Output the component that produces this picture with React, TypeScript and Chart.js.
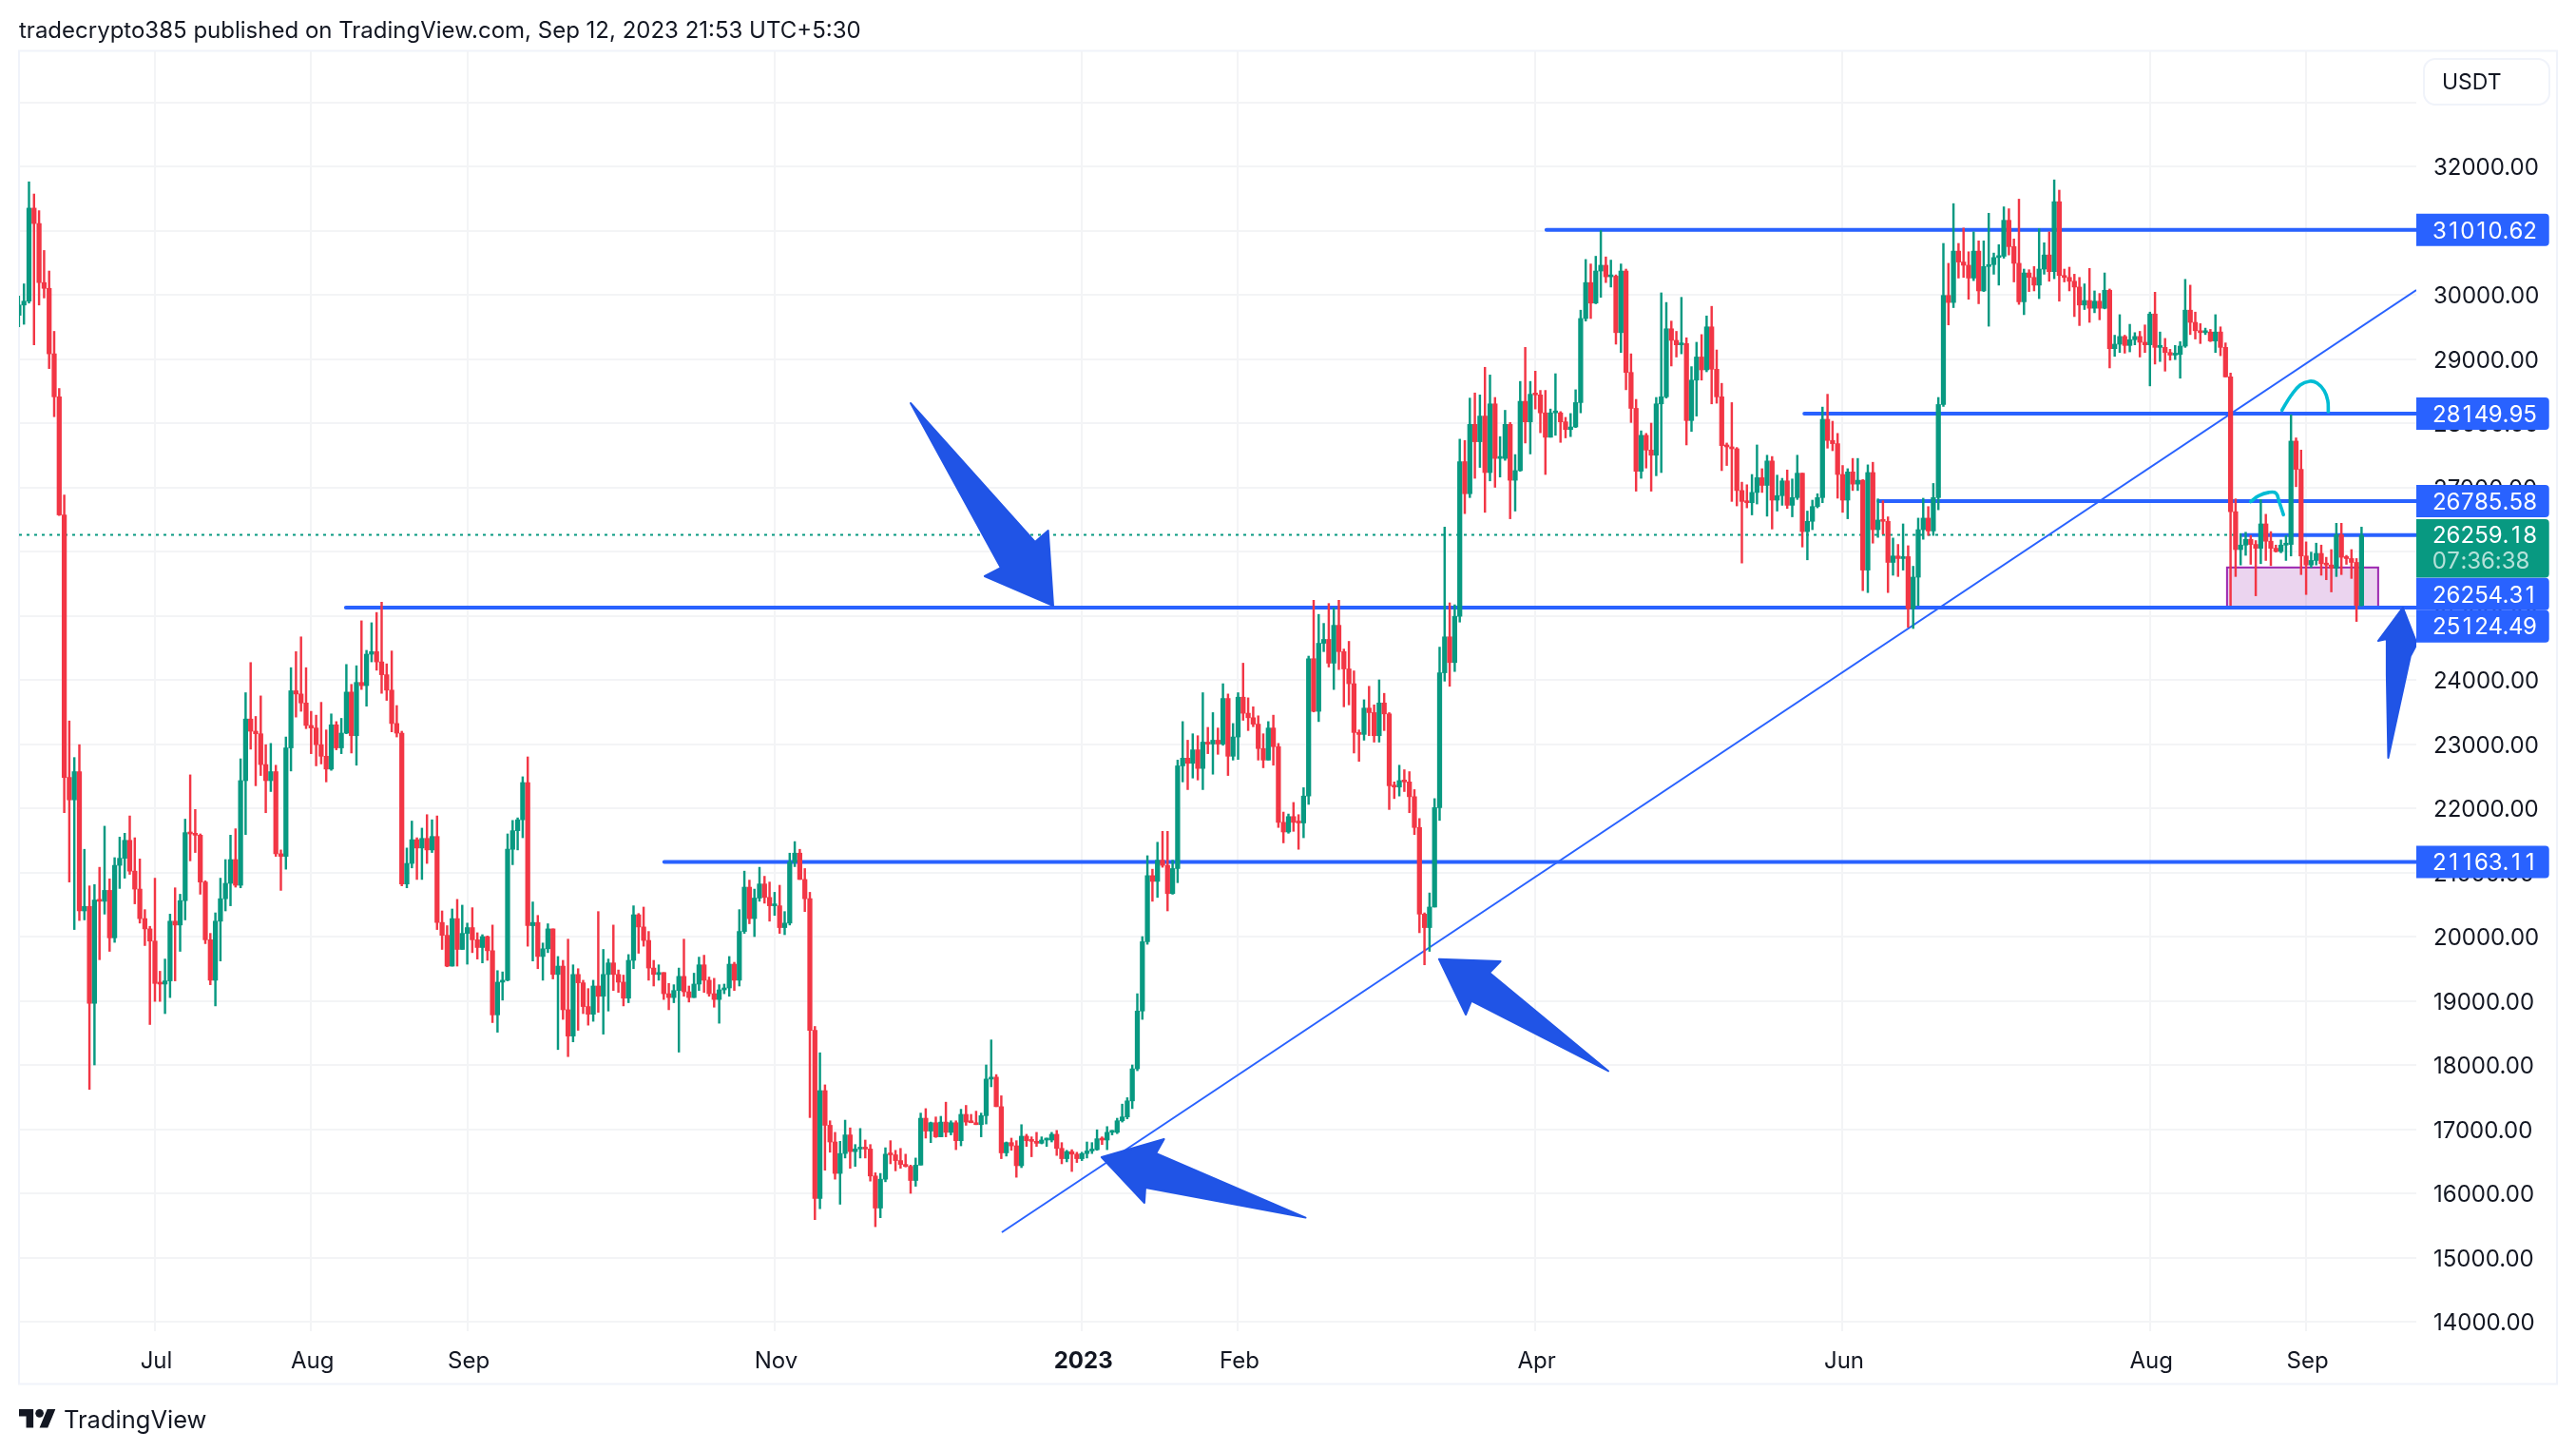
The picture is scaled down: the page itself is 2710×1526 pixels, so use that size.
import React, { useEffect, useRef } from "react";
import { Chart, registerables } from "chart.js";

Chart.register(...registerables);

// Daily candles. Day 0 is 1 Jul 2022; the first candle is day -27.
const firstDay = -27;
const opens = [
29680,29840,29900,31350,31110,30190,30100,29080,28410,26570,
22480,22130,22570,20400,20470,18960,20570,20550,20720,19980,
21110,21220,21500,21020,20740,20280,20120,19930,19270,19260,
19310,20240,20180,20560,21620,21600,21580,20850,19950,19320,
20240,20590,20830,21200,20800,22430,23390,23200,23160,22680,
22430,22570,21290,21250,22940,23830,23780,23640,23290,23250,
22990,22810,22610,23300,22940,23170,23810,23130,23960,23910,
24400,24440,24280,24080,23840,23320,23170,20820,21140,21510,
21380,21530,21350,21560,20220,20020,19540,20280,19800,20050,
20140,19950,19830,20000,19780,18780,19290,19320,21360,21650,
21820,22400,20170,20220,19690,19810,20120,19410,19540,18860,
18450,19410,19280,18910,18790,19230,19070,19410,19590,19410,
19290,19040,19630,20340,20150,19940,19510,19410,19440,19110,
19050,19160,19380,19140,19050,19260,19560,19320,19110,19020,
19170,19200,19570,19320,20080,20770,20280,20600,20820,20610,
20480,20480,20140,20210,21160,21300,20890,20590,18540,15920,
17600,17060,16800,16310,16620,16910,16650,16690,16700,16690,
16270,15770,16220,16610,16600,16510,16450,16420,16200,16440,
17170,16970,17100,16880,17110,16950,17100,16820,17230,17110,
17100,17070,17210,17780,17810,17350,16630,16790,16740,16430,
16890,16820,16810,16780,16830,16830,16920,16700,16540,16650,
16610,16540,16620,16660,16680,16850,16830,16950,16950,17130,
17190,17440,17940,18840,19920,20950,20860,21190,21110,20670,
21060,22660,22780,22700,22910,22620,23030,23000,23060,23000,
23710,22810,23110,23730,23480,23410,23310,22930,22750,23250,
22960,21780,21630,21870,21780,21770,22190,24330,23510,24570,
24630,24260,24850,24440,24170,23940,23180,23150,23560,23490,
23130,23640,23470,22350,22330,22430,22410,22180,21700,20350,
20140,20460,22010,24110,24670,24270,24990,27400,26900,27980,
27710,28110,27230,28300,27450,27450,27980,27110,27260,28340,
28020,28450,28440,28160,27780,28160,28160,28020,27900,27940,
28320,29630,30190,29870,30370,30460,30280,30290,29410,30370,
28790,28230,27250,27810,27580,27500,28300,28410,29470,29290,
29220,29240,28040,28670,29030,28830,29500,28840,28410,27650,
27630,27600,26950,26780,26760,26920,27150,27030,27410,26800,
26870,27100,26720,26840,27220,26310,26470,26700,26840,28060,
27730,27680,27200,26800,27240,27050,27110,25710,27230,26340,
26490,26470,25830,25930,25890,25920,25110,25600,26340,26520,
26320,26840,28290,29990,29880,30680,30510,30460,30260,30680,
30060,30440,30470,30580,30600,31160,30750,30490,29890,30340,
30270,30150,30400,30620,30360,31450,30300,30270,30210,30120,
29840,29910,29790,29900,29790,30070,29160,29230,29350,29210,
29300,29350,29260,29220,29700,29180,29180,29100,29060,29070,
29200,29760,29570,29440,29410,29420,29280,29420,29180,28720,
26620,26030,26100,26190,26110,26050,26430,26160,26050,26000,
26100,26110,27720,27280,25930,25790,25860,25970,25810,25790,
25740,26260,25910,25890,25830,25160,
];
const highs = [
29980,30170,31760,31570,31310,30690,30370,29430,28540,26880,
23360,22790,22990,21360,20790,20810,21080,21720,20900,21230,
21550,21610,21880,21540,21210,20420,20160,20910,19460,19650,
20350,20760,20660,21830,22520,21980,21600,20870,20050,20370,
20910,21200,21580,21680,22770,23800,24270,23430,23750,22990,
23010,22670,21350,23110,24190,24440,24670,24190,23510,23450,
23650,23220,23470,23350,23400,24240,23930,24220,24920,24460,
24890,25050,25210,24250,24450,23600,23200,21380,21800,21540,
21690,21900,21820,21880,20400,20170,20430,20580,20490,20210,
20450,20060,20030,20010,20180,19470,19450,21600,21810,21850,
22490,22800,20540,20330,19900,20200,20120,19690,19630,19960,
19560,19500,19320,19190,19320,20390,19800,19650,20180,19480,
19400,19720,20480,20360,20460,20080,19630,19560,19440,19270,
19250,19510,19960,19230,19430,19680,19710,19370,19350,19250,
19260,19690,19600,20420,21020,20880,20740,21080,20940,20850,
20690,20800,20390,21300,21480,21360,21060,20690,18600,18190,
17690,17130,16950,16810,17140,17020,16760,17010,16830,16760,
16320,16310,16710,16820,16670,16700,16610,16440,16550,17250,
17320,17110,17190,17200,17420,17130,17130,17310,17370,17230,
17280,17250,18000,18390,17850,17520,16800,16860,16820,17070,
16920,16880,16950,16880,16860,16950,16980,16790,16670,16680,
16640,16640,16800,16790,16990,16880,17040,16980,17170,17390,
17490,18000,19110,20000,21260,21050,21470,21640,21640,21190,
22750,23350,23060,23160,23130,23800,23260,23490,23250,23940,
23780,23320,23800,24260,23720,23580,23440,23160,23350,23450,
23010,21940,21910,22090,21900,22320,24370,25240,25020,24880,
25190,25120,25240,24480,24600,24140,23220,23690,23900,23610,
24000,23790,23490,22410,22670,22600,22570,22290,21840,20370,
20680,22150,24510,26380,25200,25170,27750,27730,28390,28470,
28440,28870,28750,28400,27790,28200,28010,27510,28650,29180,
28650,28810,28510,28510,28220,28770,28180,28090,28150,28520,
29760,30550,30480,30600,31000,30590,30540,30310,30480,30400,
29080,28370,27880,27840,28000,28400,30030,29880,29590,29430,
29960,29330,28880,29260,29380,29670,29820,29140,28620,27690,
28320,27620,27080,27040,27200,27660,27290,27500,27480,27190,
27140,27270,27130,27500,27220,26630,26800,26900,28250,28450,
28030,27840,27340,27290,27450,27450,27120,27350,27390,26820,
26790,26540,26210,26110,26430,26090,25770,26520,26830,26700,
27060,28400,30800,30490,31420,30800,31040,30670,30980,30840,
30840,31270,30650,30780,31370,31340,30870,31490,30400,30390,
30440,31030,30810,30980,31790,31630,30400,30430,30320,30270,
30170,30410,30060,30020,30340,30090,29370,29690,29370,29540,
29410,29430,29530,29730,30040,29420,29320,29150,29210,29270,
30240,30150,29730,29550,29480,29460,29690,29500,29250,28780,
26820,26280,26300,26250,26170,26810,26580,26310,26100,26180,
26250,28130,27770,27580,26150,25990,26130,26100,25910,26030,
26440,26440,25940,26030,25890,26380,
];
const lows = [
29500,29540,29870,29220,29840,29950,28850,28100,26560,21930,
20850,20110,20250,20260,17620,18000,19640,20350,19770,19910,
20750,20910,20970,20510,20210,19860,18630,18990,18990,18800,
19050,19310,19770,20260,21180,21310,20660,19890,19250,18920,
19620,20400,20480,20770,20760,21590,22920,22350,22510,21930,
22260,21250,20720,21050,22580,23420,23510,23240,22850,22660,
22690,22410,22590,22910,22850,23160,22860,22670,23850,23590,
24280,24150,23790,23680,23190,23110,20790,20760,21070,20890,
20890,21140,21310,20110,19800,19530,19540,19540,19800,19570,
19750,19650,19590,19630,18660,18510,19010,19310,21120,21350,
21540,19850,19620,19500,19320,19750,19340,18240,18710,18130,
18360,18540,18800,18620,18680,18820,18480,18840,19160,19130,
18920,18970,19500,19740,19850,19320,19230,19320,19020,18860,
18970,18200,19070,18980,19050,19160,19130,19070,18900,18650,
19110,19070,19160,19230,20050,20200,20000,20550,20520,20240,
20330,20050,20030,20180,21090,20890,20390,17180,15590,15760,
16360,16640,16220,15830,16550,16390,16420,16550,16550,16190,
15480,15620,16180,16460,16350,16390,16410,16000,16110,16440,
16860,16790,16870,16880,16880,16910,16680,16740,17060,17100,
17070,16880,17080,17660,17350,16540,16580,16670,16250,16400,
16730,16570,16730,16770,16730,16800,16590,16460,16490,16340,
16480,16510,16550,16620,16670,16760,16680,16910,16930,17110,
17160,17320,17910,18710,19880,20550,20610,21080,20400,20660,
20840,22410,22290,22470,22440,22290,22850,22530,22840,22980,
22510,22750,22760,23370,23210,23270,22750,22630,22750,22670,
21700,21460,21610,21640,21360,21540,22060,23500,23350,24440,
24200,23850,24160,23580,23610,22860,22730,23060,23130,23030,
23030,23210,21980,22150,22190,22260,21930,21590,20060,19560,
19770,20460,21810,23980,23900,24130,24900,26590,26840,27140,
27310,26610,27100,27000,27160,27420,26510,26630,27250,27690,
27520,28220,27850,27200,27780,27810,27700,27770,27790,27930,
28160,29590,29630,29860,29960,30190,30120,29230,29100,28520,
28010,26940,27140,27300,26940,27180,27230,28390,28890,29030,
29080,27660,27870,28110,28670,28800,28300,28310,27260,27340,
26780,26710,25820,26680,26570,26740,26920,26550,26350,26630,
26720,26670,26540,26810,26070,25870,26340,26680,26760,27610,
27570,26830,26610,26510,26950,26950,25390,25360,26130,26220,
26270,25360,25630,25610,25710,24820,24800,25160,26190,26250,
26250,26650,28260,29530,29800,30260,30270,29930,30220,29860,
30050,29510,30320,30150,30570,30620,30200,29850,29690,30050,
30060,29940,30320,30210,30250,29900,30200,30060,29660,29520,
29770,29570,29720,29610,29780,28860,29040,29100,29090,29110,
29220,29030,29100,28580,28920,28960,28810,28980,28990,28700,
29180,29380,29310,29240,29380,29270,29100,29050,28720,25160,
25610,25790,25940,25800,25310,25810,25860,25780,25990,25980,
25860,25930,27010,25640,25330,25750,25790,25630,25560,25370,
25610,25640,25800,25580,24910,25150,
];
const closes = [
29840,29900,31350,31110,30190,30100,29080,28410,26570,22480,
22130,22570,20400,20470,18960,20570,20550,20720,19980,21110,
21220,21500,21020,20740,20280,20120,19930,19270,19260,19310,
20240,20180,20560,21620,21600,21580,20850,19950,19320,20240,
20590,20830,21200,20800,22430,23390,23200,23160,22680,22430,
22570,21290,21250,22940,23830,23780,23640,23290,23250,22990,
22810,22610,23300,22940,23170,23810,23130,23960,23910,24400,
24440,24280,24080,23840,23320,23170,20820,21140,21510,21380,
21530,21350,21560,20220,20020,19540,20280,19800,20050,20140,
19950,19830,20000,19780,18780,19290,19320,21360,21650,21820,
22400,20170,20220,19690,19810,20120,19410,19540,18860,18450,
19410,19280,18910,18790,19230,19070,19410,19590,19410,19290,
19040,19630,20340,20150,19940,19510,19410,19440,19110,19050,
19160,19380,19140,19050,19260,19560,19320,19110,19020,19170,
19200,19570,19320,20080,20770,20280,20600,20820,20610,20480,
20480,20140,20210,21160,21300,20890,20590,18540,15920,17600,
17060,16800,16310,16620,16910,16650,16690,16700,16690,16270,
15770,16220,16610,16600,16510,16450,16420,16200,16440,17170,
16970,17100,16880,17110,16950,17100,16820,17230,17110,17100,
17070,17210,17780,17810,17350,16630,16790,16740,16430,16890,
16820,16810,16780,16830,16830,16920,16700,16540,16650,16610,
16540,16620,16660,16680,16850,16830,16950,16950,17130,17190,
17440,17940,18840,19920,20950,20860,21190,21110,20670,21060,
22660,22780,22700,22910,22620,23030,23000,23060,23000,23710,
22810,23110,23730,23480,23410,23310,22930,22750,23250,22960,
21780,21630,21870,21780,21770,22190,24330,23510,24570,24630,
24260,24850,24440,24170,23940,23180,23150,23560,23490,23130,
23640,23470,22350,22330,22430,22410,22180,21700,20350,20140,
20460,22010,24110,24670,24270,24990,27400,26900,27980,27710,
28110,27230,28300,27450,27450,27980,27110,27260,28340,28020,
28450,28440,28160,27780,28160,28160,28020,27900,27940,28320,
29630,30190,29870,30370,30460,30280,30290,29410,30370,28790,
28230,27250,27810,27580,27500,28300,28410,29470,29290,29220,
29240,28040,28670,29030,28830,29500,28840,28410,27650,27630,
27600,26950,26780,26760,26920,27150,27030,27410,26800,26870,
27100,26720,26840,27220,26310,26470,26700,26840,28060,27730,
27680,27200,26800,27240,27050,27110,25710,27230,26340,26490,
26470,25830,25930,25890,25920,25110,25600,26340,26520,26320,
26840,28290,29990,29880,30680,30510,30460,30260,30680,30060,
30440,30470,30580,30600,31160,30750,30490,29890,30340,30270,
30150,30400,30620,30360,31450,30300,30270,30210,30120,29840,
29910,29790,29900,29790,30070,29160,29230,29350,29210,29300,
29350,29260,29220,29700,29180,29180,29100,29060,29070,29200,
29760,29570,29440,29410,29420,29280,29420,29180,28720,26620,
26030,26100,26190,26110,26050,26430,26160,26050,26000,26100,
26110,27720,27280,25930,25790,25860,25970,25810,25790,25740,
26260,25910,25890,25830,25160,26250,
];

// Axis ticks
const monthTickDays = [0, 31, 62, 123, 184, 215, 274, 335, 396, 427];
const monthTickLabels = ["Jul", "Aug", "Sep", "Nov", "2023", "Feb", "Apr", "Jun", "Aug", "Sep"];
const priceTicks = [14000,15000,16000,17000,18000,19000,20000,21000,22000,23000,24000,25000,26000,27000,28000,29000,30000,31000,32000,33000];
const unlabeledPriceTicks = [33000];

// Drawn levels: price, first day, offset of the price tag
const levelPrices = [31010.62, 28149.95, 26785.58, 26254.31, 25124.49, 21163.11];
const levelStartDays = [276.2, 327.4, 342.1, 414.3, 37.9, 101.1];
const levelTagShift = [0, 0, 0, 62, 19.6, 0];
const lastPrice = 26259.18;
const countdown = "07:36:38";

// Trend line and drawings, as [day, price]
const trendLine = [[168.1, 15393], [448.87, 30074]];
const arrowA = [[150.0,28311],[167.9,25748],[164.7,25615],[178.3,25156],[177.3,26326],[174.7,26148]];
const arrowB = [[187.9,16563],[200.3,16844],[198.7,16622],[228.4,15621],[196.6,16089],[196.4,15852]];
const arrowC = [[254.9,19649],[267.1,19615],[264.9,19437],[288.5,17904],[261.3,18999],[260.2,18785]];
const arrowD = [[446.2,25126],[449.0,24563],[447.7,24370],[443.3,22785],[443.0,24074],[443.0,24637],[441.3,24607]];
const zoneDays = [411.3, 441.3];
const zonePrices = [25751, 25124.49];
const curveBig = [[422.2,28201],[424,28430],[425.8,28593],[427.7,28652],[429.2,28622],[430.6,28504],[431.3,28350],[431.4,28178]];
const curveSmall = [[416,26778],[417.6,26868],[419.6,26920],[421,26910],[421.6,26788],[422.5,26572]];

const titleText = "tradecrypto385 published on TradingView.com, Sep 12, 2023 21:53 UTC+5:30";
const brandText = "TradingView";
const currencyText = "USDT";

const UP = "#089981";
const DOWN = "#f23645";
const BLUE = "#2962ff";
const ARROW = "#2054e6";
const CYAN = "#00bcd4";
const FRAME = "#f0f3fa";
const GRID = "#f3f4f6";
const INK = "#131722";
const FONT = "Inter";

const X_MIN = -26.98;
const X_MAX = 448.87;
const Y_MIN = 13851.9;
const Y_MAX = 33792.6;

const days = opens.map((_, i) => firstDay + i);
const candleColors = opens.map((o, i) => (closes[i] >= o ? UP : DOWN));
const pts = (list: number[][]) => list.map(([x, y]) => ({ x, y }));

// Price tags use fixed-width digits, as the reference does.
const DIGIT_ADVANCE = 14.7;
const MARK_ADVANCE = 7;
function fillTabular(ctx: CanvasRenderingContext2D, text: string, x: number, y: number) {
  let cx = x;
  ctx.textAlign = "center";
  for (const ch of text) {
    const adv = /\d/.test(ch) ? DIGIT_ADVANCE : MARK_ADVANCE;
    ctx.fillText(ch, cx + adv / 2, y);
    cx += adv;
  }
  ctx.textAlign = "left";
}

const drawingsPlugin = {
  id: "drawings",
  beforeDraw(chart: any) {
    const { ctx } = chart;
    ctx.save();
    ctx.strokeStyle = FRAME;
    ctx.lineWidth = 2;
    ctx.strokeRect(20, 53.5, 2670, 1402);
    ctx.fillStyle = INK;
    ctx.textBaseline = "middle";
    ctx.textAlign = "left";
    ctx.font = `24px ${FONT}`;
    ctx.fillText(titleText, 20, 32.5);
    ctx.font = `25.5px ${FONT}`;
    ctx.fillText(brandText, 67, 1494);
    // brand mark
    ctx.translate(20, 1477.7);
    ctx.scale(1.08, 1.08);
    ctx.fill(new Path2D("M14 22H7V11H0V4h14v18zM28 22h-8l7.5-18h8L28 22z"));
    ctx.beginPath();
    ctx.arc(20, 8, 4, 0, Math.PI * 2);
    ctx.fill();
    ctx.restore();
  },
  beforeDatasetsDraw(chart: any) {
    const { ctx, scales, chartArea } = chart;
    const { x, y } = scales;
    ctx.save();
    ctx.beginPath();
    ctx.rect(chartArea.left, chartArea.top, chartArea.width, chartArea.height);
    ctx.clip();
    const zx = x.getPixelForValue(zoneDays[0]);
    const zy = y.getPixelForValue(zonePrices[0]);
    const zw = x.getPixelForValue(zoneDays[1]) - zx;
    const zh = y.getPixelForValue(zonePrices[1]) - zy;
    ctx.fillStyle = "rgba(156,39,176,0.2)";
    ctx.fillRect(zx, zy, zw, zh);
    ctx.strokeStyle = "#9c27b0";
    ctx.lineWidth = 2;
    ctx.strokeRect(zx, zy, zw, zh);
    ctx.restore();
  },
  afterDatasetsDraw(chart: any) {
    const { ctx, scales, chartArea } = chart;
    const { x, y } = scales;
    ctx.save();
    ctx.beginPath();
    ctx.rect(chartArea.left, chartArea.top, chartArea.width, chartArea.height);
    ctx.clip();
    ctx.fillStyle = ARROW;
    ctx.strokeStyle = ARROW;
    ctx.lineWidth = 2;
    ctx.lineJoin = "round";
    for (const arrow of [arrowA, arrowB, arrowC, arrowD]) {
      ctx.beginPath();
      arrow.forEach(([d, p], i) => {
        const px = x.getPixelForValue(d);
        const py = y.getPixelForValue(p);
        if (i === 0) ctx.moveTo(px, py);
        else ctx.lineTo(px, py);
      });
      ctx.closePath();
      ctx.fill();
      ctx.stroke();
    }
    ctx.restore();
  },
  afterDraw(chart: any) {
    const { ctx, scales } = chart;
    const { y } = scales;
    const left = 2542;
    const w = 139.7;
    const textX = 2559;
    ctx.save();
    ctx.textAlign = "left";
    ctx.textBaseline = "middle";
    ctx.font = `24px ${FONT}`;

    // last price tag
    const lastY = y.getPixelForValue(lastPrice);
    ctx.fillStyle = UP;
    ctx.beginPath();
    ctx.roundRect(left, lastY - 16.5, w, 61.5, [0, 4, 4, 0]);
    ctx.fill();
    ctx.fillStyle = "#ffffff";
    fillTabular(ctx, lastPrice.toFixed(2), textX, lastY + 1.5);
    ctx.fillStyle = "rgba(255,255,255,0.7)";
    fillTabular(ctx, countdown, textX, lastY + 28.5);

    levelPrices.forEach((price, i) => {
      const cy = y.getPixelForValue(price) + levelTagShift[i];
      ctx.fillStyle = BLUE;
      ctx.beginPath();
      ctx.roundRect(left, cy - 17, w, 34, [0, 4, 4, 0]);
      ctx.fill();
      ctx.fillStyle = "#ffffff";
      fillTabular(ctx, price.toFixed(2), textX, cy + 1.5);
    });

    // currency box
    ctx.fillStyle = "#ffffff";
    ctx.strokeStyle = FRAME;
    ctx.lineWidth = 2;
    ctx.beginPath();
    ctx.roundRect(2550, 62, 132, 48, 12);
    ctx.fill();
    ctx.stroke();
    ctx.fillStyle = INK;
    ctx.font = `23px ${FONT}`;
    ctx.fillText(currencyText, 2569, 87);
    ctx.restore();
  },
};

export default function App() {
  const ref = useRef<HTMLCanvasElement>(null);
  useEffect(() => {
    const canvas = ref.current;
    if (!canvas) return;
    const hLine = (i: number) => ({
      type: "line",
      data: [{ x: levelStartDays[i], y: levelPrices[i] }, { x: X_MAX, y: levelPrices[i] }],
      borderColor: BLUE,
      borderWidth: 4,
      borderCapStyle: "round",
      pointRadius: 0,
      order: 3,
    });
    const curve = (list: number[][]) => ({
      type: "line",
      data: pts(list),
      borderColor: CYAN,
      borderWidth: 3.6,
      borderCapStyle: "round",
      tension: 0.4,
      pointRadius: 0,
      order: 0,
    });
    const chart = new Chart(canvas, {
      type: "bar",
      data: {
        datasets: [
          ...levelPrices.map((_, i) => hLine(i)),
          {
            type: "line",
            data: [{ x: X_MIN, y: lastPrice }, { x: X_MAX, y: lastPrice }],
            borderColor: UP,
            borderWidth: 2,
            borderDash: [3, 5],
            pointRadius: 0,
            order: 4,
          },
          {
            type: "line",
            data: pts(trendLine),
            borderColor: BLUE,
            borderWidth: 2,
            pointRadius: 0,
            order: 3,
          },
          curve(curveBig),
          curve(curveSmall),
          {
            type: "bar",
            data: days.map((d, i) => ({ x: d, y: [lows[i], highs[i]] })),
            backgroundColor: candleColors,
            barThickness: 1.8,
            grouped: false,
            order: 2,
          },
          {
            type: "bar",
            data: days.map((d, i) => ({ x: d, y: [opens[i], closes[i]] })),
            backgroundColor: candleColors,
            barThickness: 4.6,
            minBarLength: 2,
            grouped: false,
            order: 1,
          },
        ] as any,
      },
      options: {
        responsive: false,
        devicePixelRatio: 1,
        animation: false,
        events: [],
        layout: { padding: { left: 20, top: 54, right: 20, bottom: 70 } },
        plugins: { legend: { display: false }, tooltip: { enabled: false } },
        scales: {
          x: {
            type: "linear",
            min: X_MIN,
            max: X_MAX,
            offset: false,
            grid: { offset: false, color: GRID, lineWidth: 2, drawTicks: false },
            border: { display: false },
            afterBuildTicks: (axis: any) => {
              axis.ticks = monthTickDays.map((value) => ({ value }));
            },
            afterFit: (axis: any) => {
              axis.height = 56;
            },
            ticks: {
              autoSkip: false,
              maxRotation: 0,
              padding: 17,
              labelOffset: 1.5,
              color: INK,
              font: (c: any) => ({
                family: FONT,
                size: 24,
                weight: c.tick && monthTickLabels[monthTickDays.indexOf(c.tick.value)] === "2023" ? "bold" : "normal",
              }),
              callback: (v: any) => monthTickLabels[monthTickDays.indexOf(Number(v))] ?? "",
            },
          },
          y: {
            type: "linear",
            position: "right",
            min: Y_MIN,
            max: Y_MAX,
            grid: { color: GRID, lineWidth: 2, drawTicks: false },
            border: { display: false },
            afterBuildTicks: (axis: any) => {
              axis.ticks = priceTicks.map((value) => ({ value }));
            },
            afterFit: (axis: any) => {
              axis.width = 148;
            },
            ticks: {
              padding: 18,
              labelOffset: 2,
              color: INK,
              font: { family: FONT, size: 24 },
              callback: (v: any) => (unlabeledPriceTicks.includes(Number(v)) ? "" : Number(v).toFixed(2)),
            },
          },
        },
      } as any,
      plugins: [drawingsPlugin],
    } as any);
    return () => chart.destroy();
  }, []);
  return (
    <canvas
      ref={ref}
      width={2710}
      height={1526}
      style={{ position: "fixed", left: 0, top: 0, width: 2710, height: 1526, display: "block", background: "#ffffff" }}
    />
  );
}
